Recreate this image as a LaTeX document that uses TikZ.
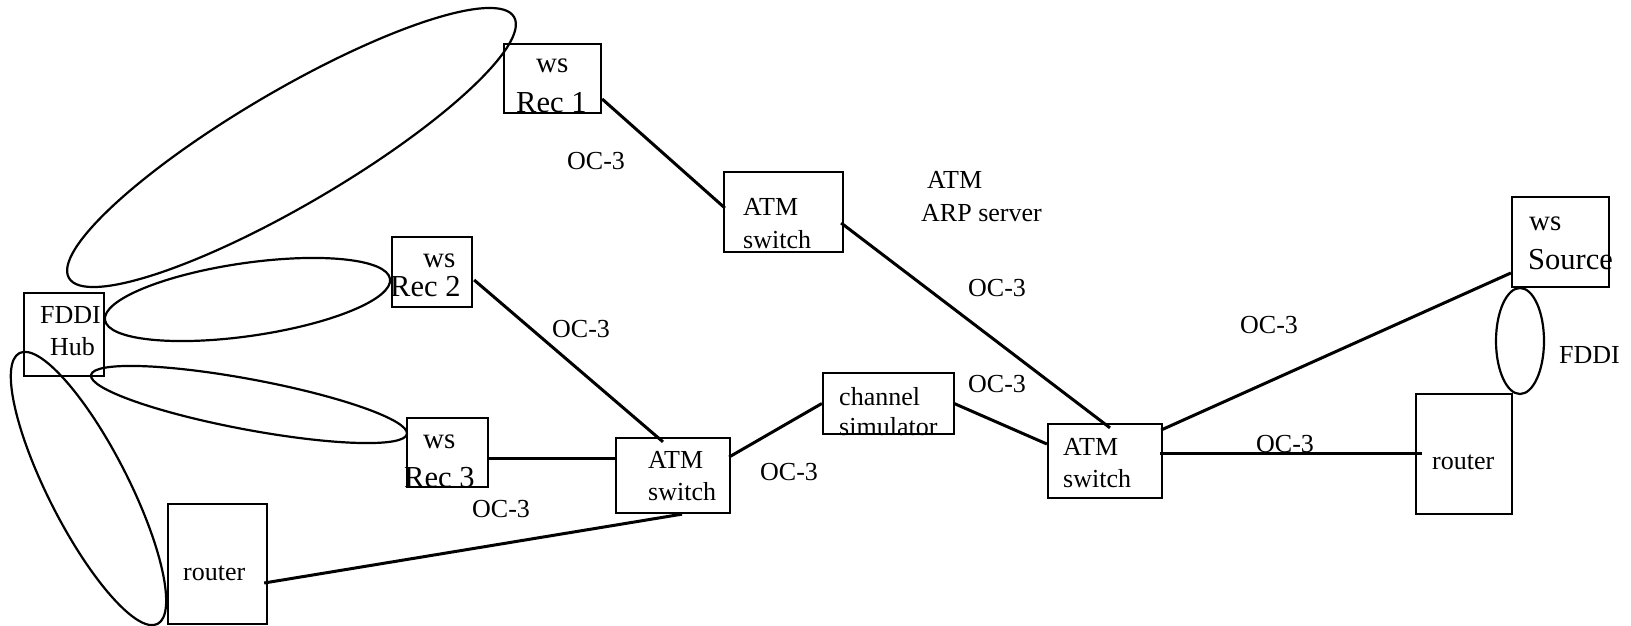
\documentclass[tikz,border=0pt]{standalone}
\usepackage{fontspec}
\setmainfont{Liberation Serif}
\usetikzlibrary{calc}
\begin{document}
\begin{tikzpicture}[x=1pt,y=-1pt,
  box/.style={draw,line width=2.3pt,inner sep=0pt,rectangle},
  conn/.style={line width=3pt},
  loop/.style={line width=2.2pt},
  lblS/.style={anchor=base west,inner sep=0pt,font=\fontsize{26}{30}\selectfont},
  lblW/.style={anchor=base west,inner sep=0pt,font=\fontsize{29}{32}\selectfont},
  lblB/.style={anchor=base west,inner sep=0pt,font=\fontsize{30.5}{34}\selectfont}]
\useasboundingbox (0,0) rectangle (1631,626);

% boxes
\node[box,minimum width=97pt,minimum height=69pt] (rec1) at (552.5,78.5) {};
\node[box,minimum width=119pt,minimum height=80pt] (atm1) at (783.5,212) {};
\node[box,minimum width=80pt,minimum height=70pt] (rec2) at (432,272) {};
\node[box,minimum width=81pt,minimum height=69pt] (rec3) at (447.5,452.5) {};
\node[box,minimum width=114pt,minimum height=75pt] (atm2) at (673,475.5) {};
\node[box,minimum width=131pt,minimum height=61pt] (chan) at (888.5,403.5) {};
\node[box,minimum width=114pt,minimum height=74pt] (atm3) at (1105,461) {};
\node[box,minimum width=97pt,minimum height=90pt] (source) at (1560.5,242) {};
\node[box,minimum width=96pt,minimum height=120pt] (routerR) at (1464,454) {};
\node[box,minimum width=80pt,minimum height=83pt] (hub) at (64,334.5) {};
\node[box,minimum width=99pt,minimum height=120pt] (routerL) at (217.5,564) {};

% loops (FDDI ring segments)
\draw[loop,rotate around={30.4:(291.5,147.5)}] (291.5,147.5) ellipse (258 and 57);
\draw[loop,rotate around={8.2:(247.5,299.5)}] (247.5,299.5) ellipse (144 and 36.5);
\draw[loop,rotate around={-10.6:(249,404.5)}] (249,404.5) ellipse (160.7 and 25.2);
\draw[loop,rotate around={-63:(88.5,488.5)}] (88.5,488.5) ellipse (152 and 40);
\draw[loop] (1520,341) ellipse (24 and 53);

% texts
\node[lblW] (t1a) at (536,73) {ws};
\node[lblB] (t1b) at (516,112) {Rec 1};
\node[lblS] (t2a) at (743,215) {ATM};
\node[lblS] (t2b) at (743,248) {switch};
\node[lblS] (t3a) at (927,188) {ATM};
\node[lblS] (t3b) at (921,221) {ARP server};
\node[lblW] (t4a) at (423,267) {ws};
\node[lblB] (t4b) at (390,296) {Rec 2};
\node[lblW] (t5a) at (423,448) {ws};
\node[lblB] (t5b) at (404,487) {Rec 3};
\node[lblS] (t6a) at (648,468) {ATM};
\node[lblS] (t6b) at (648,500) {switch};
\node[lblS] (t7a) at (839,405) {channel};
\node[lblS] (t7b) at (839,435) {simulator};
\node[lblS] (t8a) at (1063,455) {ATM};
\node[lblS] (t8b) at (1063,487) {switch};
\node[lblW] (t9a) at (1529,230) {ws};
\node[lblB] (t9b) at (1528,269) {Source};
\node[lblS] (t10) at (1432,469) {router};
\node[lblS] (t11) at (1559,363) {FDDI};
\node[lblS] (t12a) at (40,323) {FDDI};
\node[lblS] (t12b) at (50,355) {Hub};
\node[lblS] (t13) at (183,580) {router};
\node[lblS] (oc1) at (567,169) {OC-3};
\node[lblS] (oc2) at (968,296) {OC-3};
\node[lblS] (oc3) at (1240,333) {OC-3};
\node[lblS] (oc4) at (968,392) {OC-3};
\node[lblS] (oc5) at (552,337) {OC-3};
\node[lblS] (oc6) at (760,480) {OC-3};
\node[lblS] (oc7) at (472,517) {OC-3};
\node[lblS] (oc8) at (1256,452) {OC-3};

% connectors
\draw[conn] ($(rec1.east)+(0,20.5)$) -- ($(atm1.west)+(2,-4)$);
\draw[conn] ($(atm1.east)+(-3,11)$) -- ($(atm3.north)+(5,5)$);
\draw[conn] ($(rec2.east)+(1,8)$) -- ($(atm2.north)+(-10,5)$);
\draw[conn] ($(rec3.east)+(0,5.5)$) -- ($(atm2.west)+(1,-17.5)$);
\draw[conn] ($(atm2.east)+(-2,-18.5)$) -- (chan.west);
\draw[conn] ($(chan.east)+(-1,0)$) -- ($(atm3.west)+(0,-17)$);
\draw[conn] ($(atm3.east)+(-2,-31)$) -- ($(source.west)+(0,31)$);
\draw[conn] ($(atm3.east)+(-3,-8)$) -- ($(routerR.west)+(7,-1)$);
\draw[conn] ($(atm2.south)+(9,0)$) -- ($(routerL.east)+(-4,19)$);
\end{tikzpicture}
\end{document}
